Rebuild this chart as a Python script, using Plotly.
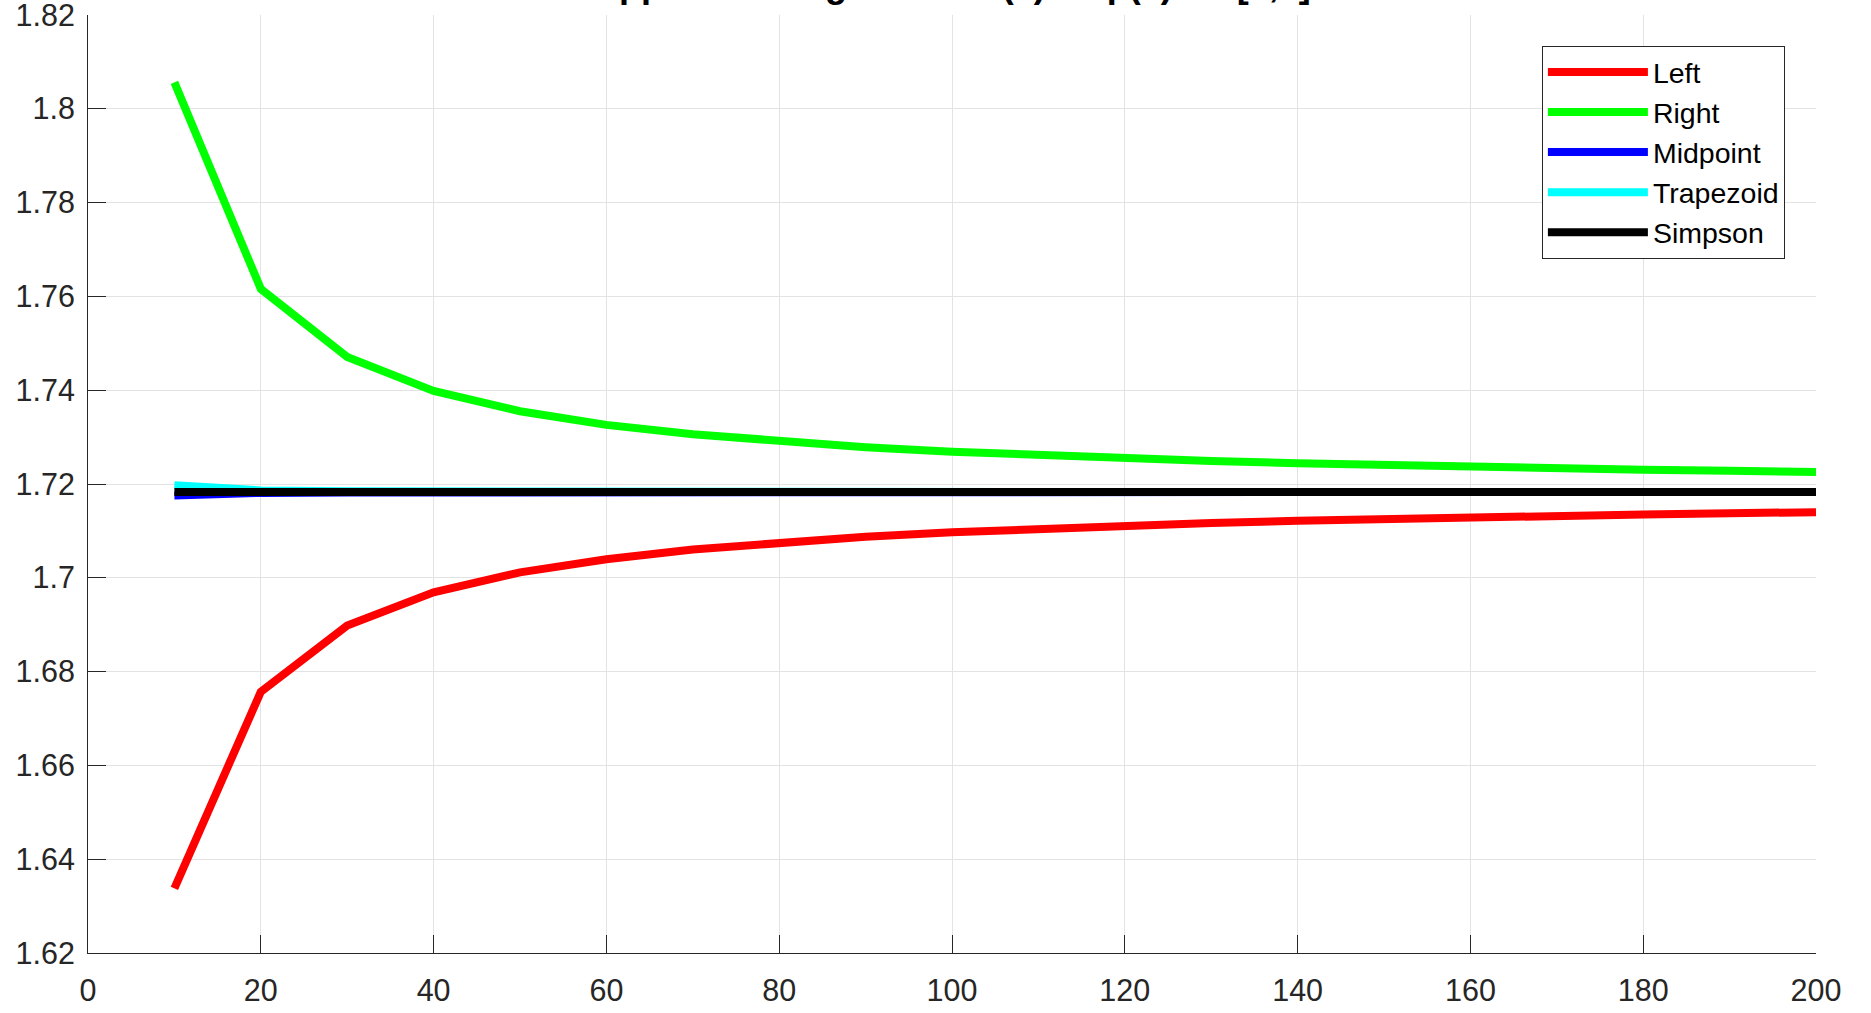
import plotly.graph_objects as go

n_values = [10, 20, 30, 40, 50, 60, 70, 80, 90, 100, 110, 120, 130, 140, 150, 160, 170, 180, 190, 200]

left = [1.63380, 1.67569, 1.68980, 1.69690, 1.70116, 1.70397, 1.70604, 1.70757, 1.70875, 1.70970,
        1.71048, 1.71113, 1.71168, 1.71215, 1.71256, 1.71292, 1.71323, 1.71351, 1.71376, 1.71400]
right = [1.80563, 1.76160, 1.74708, 1.73985, 1.73552, 1.73261, 1.73059, 1.72904, 1.72785, 1.72689,
         1.72610, 1.72545, 1.72490, 1.72443, 1.72402, 1.72366, 1.72334, 1.72306, 1.72281, 1.72258]
midpoint = [1.71757, 1.71810, 1.71820, 1.71824, 1.71825, 1.71826, 1.71827, 1.71827, 1.71827, 1.71827,
            1.71828, 1.71828, 1.71828, 1.71828, 1.71828, 1.71828, 1.71828, 1.71828, 1.71828, 1.71828]
trapezoid = [1.71971, 1.71864, 1.71844, 1.71837, 1.71834, 1.71832, 1.71831, 1.71830, 1.71830, 1.71830,
             1.71829, 1.71829, 1.71829, 1.71829, 1.71829, 1.71829, 1.71828, 1.71828, 1.71828, 1.71828]
simpson = [1.71828] * 20

series = [
    ("Left", left, "#ff0000"),
    ("Right", right, "#00ff00"),
    ("Midpoint", midpoint, "#0000ff"),
    ("Trapezoid", trapezoid, "#00ffff"),
    ("Simpson", simpson, "#000000"),
]

title_text = "Approximating Area of f(x)=exp(x) on [0,1]"
x_ticks = list(range(0, 201, 20))
y_ticks = [1.62, 1.64, 1.66, 1.68, 1.7, 1.72, 1.74, 1.76, 1.78, 1.8, 1.82]
y_tick_labels = ["1.62", "1.64", "1.66", "1.68", "1.7", "1.72", "1.74", "1.76", "1.78", "1.8", "1.82"]

fig = go.Figure()
for name, vals, color in series:
    fig.add_trace(go.Scatter(x=n_values, y=vals, mode="lines", name=name,
                             line=dict(color=color, width=8)))

axis_color = "#262626"
grid_color = "#e3e3e3"
font_family = "Liberation Sans, Arial, sans-serif"

fig.update_layout(
    width=1871, height=1013,
    margin=dict(l=88, r=55, t=15, b=60),
    paper_bgcolor="white", plot_bgcolor="white",
    font=dict(family=font_family, size=30, color=axis_color),
    showlegend=True,
    legend=dict(
        x=0.982, y=0.967, xanchor="right", yanchor="top",
        bgcolor="white", bordercolor=axis_color, borderwidth=1,
        font=dict(size=28.5, color="#000000"),
        itemwidth=100, tracegroupgap=0,
    ),
    xaxis=dict(
        range=[0, 200], tickvals=x_ticks, showgrid=True, gridcolor=grid_color, gridwidth=1,
        showline=True, linecolor=axis_color, linewidth=1, mirror=False,
        ticks="inside", ticklen=18, tickcolor=axis_color, tickwidth=1,
        zeroline=False, tickfont=dict(size=30.5, color=axis_color),
        ticklabelstandoff=10, automargin=False, ticklabeloverflow="allow",
    ),
    yaxis=dict(
        range=[1.62, 1.82], tickvals=y_ticks, ticktext=y_tick_labels,
        showgrid=True, gridcolor=grid_color, gridwidth=1,
        showline=True, linecolor=axis_color, linewidth=1, mirror=False,
        ticks="inside", ticklen=18, tickcolor=axis_color, tickwidth=1,
        zeroline=False, tickfont=dict(size=30.5, color=axis_color),
        ticklabelstandoff=6, automargin=False, ticklabeloverflow="allow",
    ),
    annotations=[dict(
        text="<b>" + title_text + "</b>", xref="paper", yref="paper",
        x=0.5, y=1.0, xanchor="center", yanchor="bottom", yshift=8,
        showarrow=False, font=dict(size=36, color="#000000", family=font_family),
    )],
)

fig.write_html("out.html")
